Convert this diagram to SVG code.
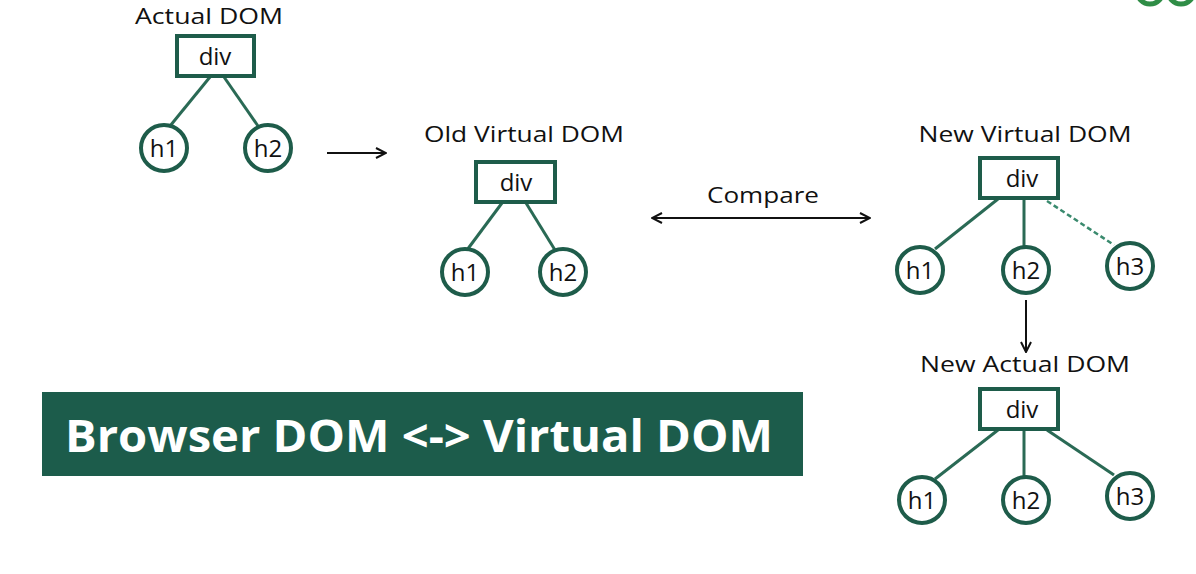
<svg xmlns="http://www.w3.org/2000/svg" width="1196" height="574" viewBox="0 0 1196 574">
<defs>
<style>
.box{fill:#fff;stroke:#1e5c4a;stroke-width:4}
.circ{fill:#fff;stroke:#1e5c4a;stroke-width:4}
.edge{stroke:#2a6a55;stroke-width:3;fill:none}
.dash{stroke:#3a8a6e;stroke-width:2.5;fill:none;stroke-dasharray:5 3}
.arr{stroke:#111;stroke-width:2;fill:none}
.lbl{font-family:"Open Sans","Liberation Sans",sans-serif;font-size:21px;fill:#111;text-anchor:middle;font-weight:500}
.nt{font-family:"Open Sans","Liberation Sans",sans-serif;font-size:24px;fill:#111;text-anchor:middle;font-weight:500}
.ban{font-family:"Open Sans","Liberation Sans",sans-serif;font-size:44px;fill:#fff;font-weight:700}
</style>
<marker id="ah" viewBox="0 0 12 12" refX="11" refY="6" markerWidth="12" markerHeight="12" markerUnits="userSpaceOnUse" orient="auto-start-reverse">
<path d="M1,1 L11,6 L1,11" fill="none" stroke="#111" stroke-width="2"/>
</marker>
</defs>
<rect width="1196" height="574" fill="#fff"/>
<g id="logo">
<circle cx="1150" cy="-9" r="13" fill="none" stroke="#2f8d46" stroke-width="5"/>
<circle cx="1181" cy="-9" r="13" fill="none" stroke="#2f8d46" stroke-width="5"/>
</g>
<g id="connectors">
<line class="edge" x1="210" y1="77" x2="170" y2="126"/>
<line class="edge" x1="224" y1="77" x2="258" y2="126"/>
<line class="edge" x1="502" y1="203" x2="467" y2="250"/>
<line class="edge" x1="526" y1="203" x2="555" y2="250"/>
<line class="edge" x1="998" y1="199" x2="935" y2="249"/>
<line class="edge" x1="1024" y1="199" x2="1024" y2="247"/>
<line class="dash" x1="1047" y1="201" x2="1114" y2="245"/>
<line class="edge" x1="998" y1="430" x2="935" y2="479"/>
<line class="edge" x1="1024" y1="430" x2="1024" y2="477"/>
<line class="edge" x1="1047" y1="430" x2="1114" y2="475"/>
<line class="arr" x1="327" y1="153" x2="386" y2="153" marker-end="url(#ah)"/>
<line class="arr" x1="652" y1="218" x2="870" y2="218" marker-start="url(#ah)" marker-end="url(#ah)"/>
<line class="arr" x1="1026" y1="300" x2="1026" y2="352" marker-end="url(#ah)"/>
</g>
<g id="actual-dom">
<text class="lbl" x="209" y="24" textLength="148" lengthAdjust="spacingAndGlyphs">Actual DOM</text>
<rect class="box" x="177" y="36" width="77" height="40"/>
<text class="nt" x="215" y="65">div</text>
</g>
<g id="actual-h1"><circle class="circ" cx="164" cy="148" r="23"/><text class="nt" x="164" y="157">h1</text></g>
<g id="actual-h2"><circle class="circ" cx="268" cy="148" r="23"/><text class="nt" x="268" y="157">h2</text></g>
<g id="old-vdom">
<text class="lbl" x="524" y="142" textLength="200" lengthAdjust="spacingAndGlyphs">Old Virtual DOM</text>
<rect class="box" x="476" y="162" width="79" height="40"/>
<text class="nt" x="516" y="191">div</text>
</g>
<g id="old-h1"><circle class="circ" cx="465" cy="272" r="23"/><text class="nt" x="465" y="281">h1</text></g>
<g id="old-h2"><circle class="circ" cx="563" cy="272" r="23"/><text class="nt" x="563" y="281">h2</text></g>
<g id="compare"><text class="lbl" x="763" y="203" textLength="112" lengthAdjust="spacingAndGlyphs">Compare</text></g>
<g id="new-vdom">
<text class="lbl" x="1025" y="142" textLength="213" lengthAdjust="spacingAndGlyphs">New Virtual DOM</text>
<rect class="box" x="980" y="158" width="78" height="40"/>
<text class="nt" x="1022" y="187">div</text>
</g>
<g id="new-h1"><circle class="circ" cx="920" cy="270" r="23"/><text class="nt" x="920" y="279">h1</text></g>
<g id="new-h2"><circle class="circ" cx="1026" cy="270" r="23"/><text class="nt" x="1026" y="279">h2</text></g>
<g id="new-h3"><circle class="circ" cx="1130" cy="266" r="23"/><text class="nt" x="1130" y="275">h3</text></g>
<g id="new-actual-dom">
<text class="lbl" x="1025" y="372" textLength="210" lengthAdjust="spacingAndGlyphs">New Actual DOM</text>
<rect class="box" x="980" y="389" width="78" height="40"/>
<text class="nt" x="1022" y="418">div</text>
</g>
<g id="na-h1"><circle class="circ" cx="922" cy="500" r="23"/><text class="nt" x="922" y="509">h1</text></g>
<g id="na-h2"><circle class="circ" cx="1026" cy="500" r="23"/><text class="nt" x="1026" y="509">h2</text></g>
<g id="na-h3"><circle class="circ" cx="1130" cy="496" r="23"/><text class="nt" x="1130" y="505">h3</text></g>
<g id="banner">
<rect x="42" y="392" width="761" height="84" fill="#1c5c4b"/>
<text class="ban" x="65" y="452" textLength="708" lengthAdjust="spacingAndGlyphs">Browser DOM &lt;-&gt; Virtual DOM</text>
</g>
</svg>
